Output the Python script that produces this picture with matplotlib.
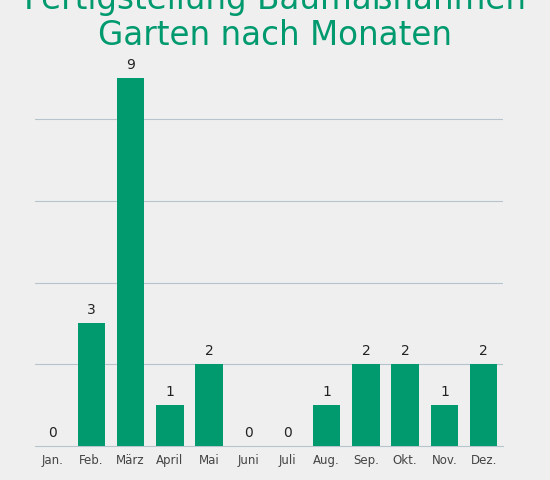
import matplotlib
matplotlib.use('Agg')
import matplotlib.pyplot as plt
import numpy as np

months = ['Jan.', 'Feb.', 'März', 'April', 'Mai', 'Juni', 'Juli', 'Aug.', 'Sep.', 'Okt.', 'Nov.', 'Dez.']
counts = [0, 3, 9, 1, 2, 0, 0, 1, 2, 2, 1, 2]
title_lines = ['Fertigstellung Baumaßnahmen', 'Garten nach Monaten']

green = '#009a6e'
bg = '#efefef'

fig = plt.figure(figsize=(5.5, 4.8), dpi=100, facecolor=bg)
ax = fig.add_axes([0.064, 0.071, 0.851, 0.766], facecolor=bg)

x = np.arange(len(months))
ax.bar(x, counts, width=0.7, color=green, zorder=3)
for xi, c in zip(x, counts):
    ax.text(xi, c + 0.15, str(c), ha='center', va='bottom', fontsize=10, color='#222222', clip_on=False)

ax.set_xlim(-0.43, 11.5)
ax.set_ylim(0, 9)
ax.set_yticks([2, 4, 6, 8])
ax.yaxis.grid(True, color='#b7c4cc', linewidth=0.8, zorder=0)
ax.tick_params(axis='y', left=False, labelleft=False)
ax.set_xticks(x)
ax.set_xticklabels(months, fontsize=8.5, color='#444444')
ax.tick_params(axis='x', length=0, pad=6)
for s in ['top', 'right', 'left']:
    ax.spines[s].set_visible(False)
ax.spines['bottom'].set_color('#b7c4cc')

fig.text(0.5, 1.0, title_lines[0], ha='center', va='center', fontsize=23.5, color=green)
fig.text(0.5, 0.927, title_lines[1], ha='center', va='center', fontsize=23.5, color=green)

fig.savefig('out.png', dpi=100, facecolor=bg)
